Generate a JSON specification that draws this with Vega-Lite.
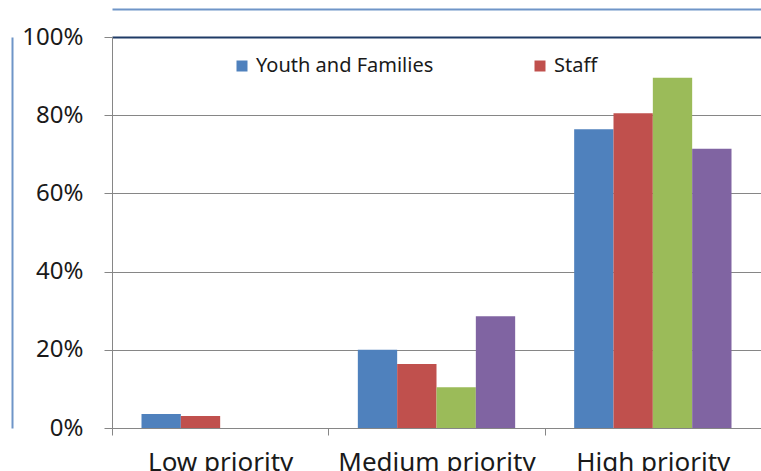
{
  "$schema": "https://vega.github.io/schema/vega-lite/v6.json",
  "width": 649,
  "height": 391,
  "autosize": {"type": "none"},
  "padding": {"left": 112, "top": 37, "right": 0, "bottom": 43},
  "background": "white",
  "data": {
    "values": [
      {"priority": "Low priority", "group": "Youth and Families", "share": 0.036},
      {"priority": "Low priority", "group": "Staff", "share": 0.031},
      {"priority": "Low priority", "group": "Group 3", "share": 0},
      {"priority": "Low priority", "group": "Group 4", "share": 0},
      {"priority": "Medium priority", "group": "Youth and Families", "share": 0.20},
      {"priority": "Medium priority", "group": "Staff", "share": 0.164},
      {"priority": "Medium priority", "group": "Group 3", "share": 0.104},
      {"priority": "Medium priority", "group": "Group 4", "share": 0.286},
      {"priority": "High priority", "group": "Youth and Families", "share": 0.764},
      {"priority": "High priority", "group": "Staff", "share": 0.805},
      {"priority": "High priority", "group": "Group 3", "share": 0.896},
      {"priority": "High priority", "group": "Group 4", "share": 0.714}
    ]
  },
  "layer": [
    {
      "mark": "bar",
      "encoding": {
        "x": {
          "field": "priority",
          "type": "nominal",
          "sort": ["Low priority", "Medium priority", "High priority"],
          "scale": {"paddingInner": 0, "paddingOuter": 0},
          "axis": {
            "title": null,
            "labelAngle": 0,
            "labelFont": "Noto Sans",
            "labelFontSize": 26,
            "labelColor": "#1a1a1a",
            "labelPadding": 14,
            "labelLimit": 300,
            "domainColor": "#868686",
            "tickColor": "#868686",
            "tickSize": 7,
            "tickBand": "extent",
            "grid": false
          }
        },
        "xOffset": {
          "field": "group",
          "sort": ["Youth and Families", "Staff", "Group 3", "Group 4"],
          "scale": {"paddingInner": 0, "paddingOuter": 0.75}
        },
        "y": {
          "field": "share",
          "type": "quantitative",
          "scale": {"domain": [0, 1]},
          "axis": {
            "title": null,
            "values": [0, 0.2, 0.4, 0.6, 0.8, 1],
            "format": ".0%",
            "labelFont": "Noto Sans",
            "labelFontSize": 24,
            "labelColor": "#1a1a1a",
            "labelPadding": 21,
            "tickSize": 8,
            "tickColor": "#868686",
            "domainColor": "#868686",
            "grid": true,
            "gridColor": {"condition": {"test": "datum.value === 1", "value": "#1f3b66"}, "value": "#868686"},
            "gridWidth": {"condition": {"test": "datum.value === 1", "value": 2}, "value": 1}
          }
        },
        "color": {
          "field": "group",
          "type": "nominal",
          "scale": {
            "domain": ["Youth and Families", "Staff", "Group 3", "Group 4"],
            "range": ["#4f81bd", "#c0504d", "#9bbb59", "#8064a2"]
          },
          "legend": {
            "title": null,
            "values": ["Youth and Families", "Staff"],
            "orient": "none",
            "direction": "horizontal",
            "legendX": 120,
            "legendY": 19,
            "padding": 0,
            "symbolType": "square",
            "symbolSize": 121,
            "symbolStrokeWidth": 0,
            "symbolOpacity": 1,
            "labelFont": "Noto Sans",
            "labelFontSize": 20,
            "labelColor": "#1a1a1a",
            "labelOffset": 4,
            "labelLimit": 300,
            "columnPadding": 96
          }
        }
      }
    },
    {
      "mark": {"type": "bar", "opacity": 0},
      "encoding": {
        "x": {
          "field": "priority",
          "type": "nominal",
          "sort": ["Low priority", "Medium priority", "High priority"],
          "axis": {
            "orient": "top",
            "offset": 28,
            "title": null,
            "labels": false,
            "ticks": false,
            "grid": false,
            "domainColor": "#6f95c8",
            "domainWidth": 2
          }
        },
        "y": {
          "field": "share",
          "type": "quantitative",
          "axis": {
            "orient": "left",
            "offset": 100,
            "title": null,
            "labels": false,
            "ticks": false,
            "grid": false,
            "domainColor": "#6f95c8",
            "domainWidth": 2
          }
        }
      }
    }
  ],
  "resolve": {"axis": {"x": "independent", "y": "independent"}},
  "config": {
    "view": {"stroke": null}
  }
}
